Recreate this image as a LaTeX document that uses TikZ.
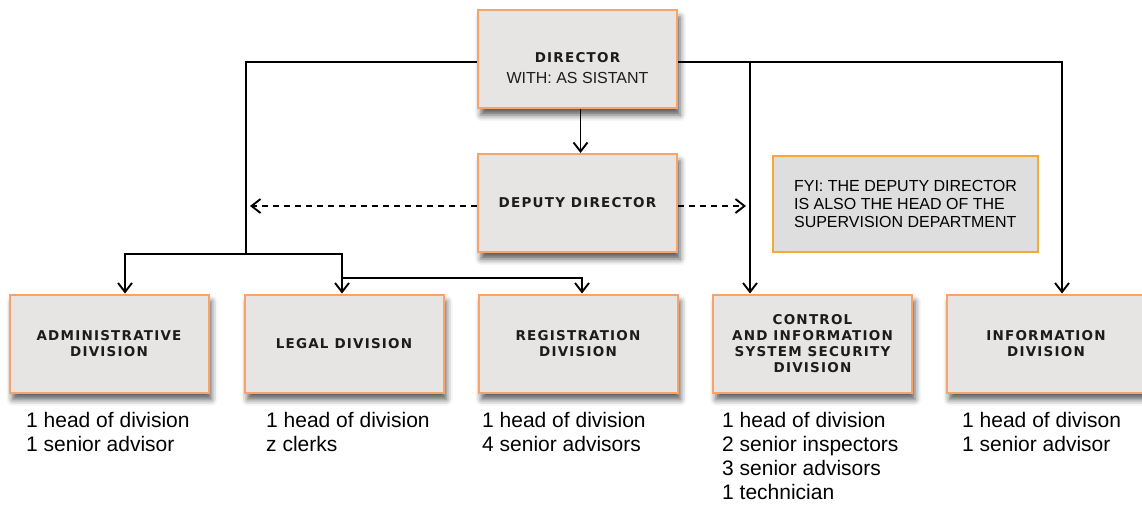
\documentclass[tikz,border=0pt]{standalone}
\usepackage{fontspec}
\setmainfont{Liberation Sans}
\newfontfamily\pixfont[LetterSpace=9]{DejaVu Sans Bold}
\usetikzlibrary{arrows.meta,shadows.blur}

\definecolor{boxfill}{HTML}{E6E5E3}
\definecolor{boxline}{HTML}{F9A36B}
\definecolor{notefill}{HTML}{DEDEDE}
\definecolor{noteline}{HTML}{F5A832}
\definecolor{pixtext}{HTML}{1C1C1C}

\begin{document}
\begin{tikzpicture}[x=1pt,y=-1pt,
    unit/.style={draw=boxline, fill=boxfill, line width=2pt,
        minimum width=199pt, minimum height=98pt, inner sep=0pt,
        blur shadow={shadow xshift=3pt, shadow yshift=-7pt, shadow blur radius=6pt, shadow opacity=65},
        font=\pixfont\fontsize{13.5}{16}\selectfont, text=pixtext, align=center},
    link/.style={line width=1.9pt},
    arrow/.style={link, -{Straight Barb[length=9pt,width=14pt]}},
    dasharrow/.style={arrow, dash pattern=on 6pt off 5pt},
    staff/.style={anchor=north west, inner sep=0pt, align=left, font=\fontsize{21}{24}\selectfont}
]
    \useasboundingbox (0,0) rectangle (1142,504);

    % top of the chart
    \node[unit] (dir) at (577.5,59) {};
    \node[font=\pixfont\fontsize{13.5}{16}\selectfont, text=pixtext] (dirtitle) at (577.5,58) {DIRECTOR};
    \node[font=\fontsize{16}{18}\selectfont, text=pixtext] (dirnote) at (577.5,78) {WITH: AS SISTANT};

    \node[unit] (dep) at (577.5,203) {DEPUTY DIRECTOR};

    \node[draw=noteline, fill=notefill, line width=2pt, minimum width=265pt, minimum height=96pt,
        align=left, font=\fontsize{16}{18}\selectfont] (fyi) at (905.5,204)
        {FYI: THE DEPUTY DIRECTOR\\IS ALSO THE HEAD OF THE\\SUPERVISION DEPARTMENT};

    % divisions
    \node[unit] (adm) at (109,343.5) {ADMINISTRATIVE\\DIVISION};
    \node[unit] (legal) at (344,343.5) {LEGAL DIVISION};
    \node[unit] (reg) at (578,343.5) {REGISTRATION\\DIVISION};
    \node[unit] (ctrl) at (812.5,343.5) {CONTROL\\AND INFORMATION\\SYSTEM SECURITY\\DIVISION};
    \node[unit] (info) at (1046,343.5) {INFORMATION\\DIVISION};

    % staff of each division
    \node[staff] (admstaff) at (26,412) {1 head of division\\1 senior advisor};
    \node[staff] (legalstaff) at (266,412) {1 head of division\\z clerks};
    \node[staff] (regstaff) at (482,412) {1 head of division\\4 senior advisors};
    \node[staff] (ctrlstaff) at (722,412) {1 head of division\\2 senior inspectors\\3 senior advisors\\1 technician};
    \node[staff] (infostaff) at (962,412) {1 head of divison\\1 senior advisor};

    % connectors
    \coordinate (split) at (246,254);
    \coordinate (regsplit) at (342,278);
    \coordinate (ctrltap) at (750,62);
    \coordinate (dashl) at (250,206);
    \coordinate (dashr) at (746,206);

    \draw[link] ([yshift=-3pt]dir.west) -| (split);
    \draw[arrow] (split) -| ([xshift=16pt]adm.north);
    \draw[arrow] (split) -| ([xshift=-2pt]legal.north);
    \draw[arrow] (regsplit) -| ([xshift=4pt]reg.north);

    \draw[arrow] ([yshift=-3pt]dir.east) -| ([xshift=16pt]info.north);
    \draw[arrow] (ctrltap) -- (ctrltap |- ctrl.north);
    \draw[arrow] ([xshift=3pt]dir.south) -- ([xshift=3pt]dep.north);

    \draw[dasharrow] (dep.west |- dashl) -- (dashl);
    \draw[dasharrow] (dep.east |- dashr) -- (dashr);
\end{tikzpicture}
\end{document}
